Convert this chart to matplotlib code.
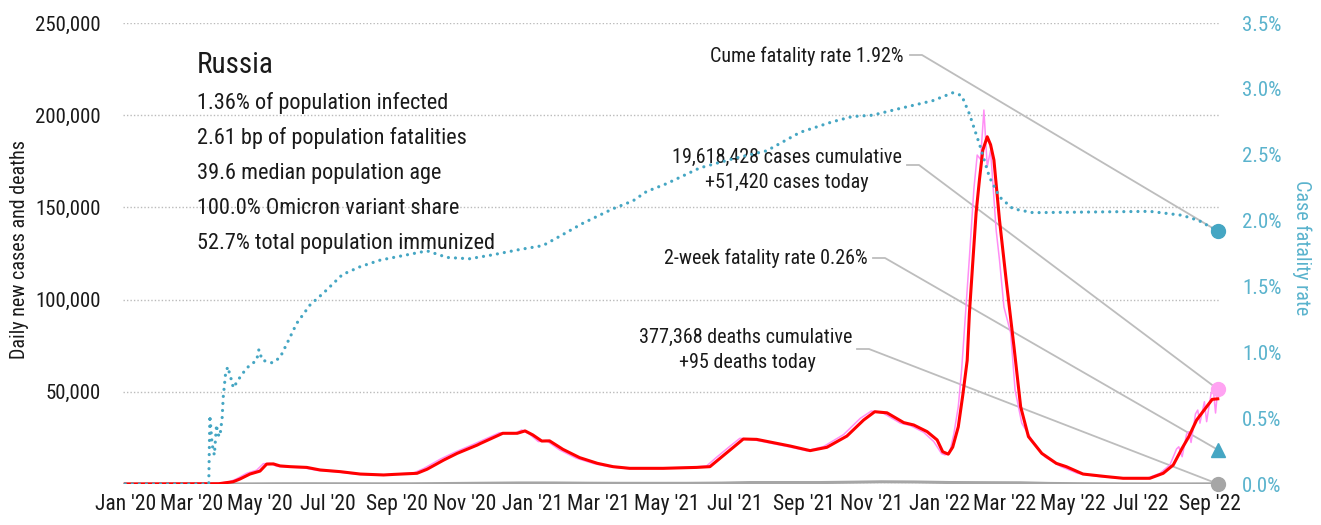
import matplotlib
matplotlib.use("Agg")
import matplotlib.pyplot as plt
import matplotlib.dates as mdates
import matplotlib.font_manager as fm
from matplotlib.ticker import FuncFormatter, FixedLocator
import pandas as pd

# pick a narrow face if one is around
names = {f.name for f in fm.fontManager.ttflist}
FONT = "Roboto"
for cand in ["Roboto Condensed", "Liberation Sans Narrow", "Roboto"]:
    if cand in names:
        FONT = cand
        break
NARROW = FONT != "Roboto"
FS = 14.5 if NARROW else 12.5
plt.rcParams["font.family"] = [FONT, "DejaVu Sans"]

# ---- data -------------------------------------------------------------
# 7-day average of new cases
avg_dates = ["2020-01-01", "2020-03-25", "2020-04-07", "2020-04-13", "2020-04-22",
             "2020-05-01", "2020-05-07", "2020-05-13", "2020-05-19", "2020-05-28",
             "2020-06-12", "2020-06-24", "2020-07-12", "2020-07-30", "2020-08-20",
             "2020-08-29", "2020-09-19", "2020-09-28", "2020-10-13", "2020-10-25",
             "2020-11-12", "2020-11-15", "2020-12-05", "2020-12-18", "2020-12-25",
             "2021-01-01", "2021-01-09", "2021-01-16", "2021-01-28", "2021-02-12",
             "2021-02-28", "2021-03-14", "2021-03-29", "2021-04-28", "2021-05-28",
             "2021-06-09", "2021-06-18", "2021-06-30", "2021-07-09", "2021-07-21",
             "2021-08-05", "2021-08-20", "2021-09-07", "2021-09-22", "2021-10-10",
             "2021-10-25", "2021-11-04", "2021-11-15", "2021-11-30", "2021-12-09",
             "2021-12-21", "2021-12-30", "2022-01-04", "2022-01-09", "2022-01-13",
             "2022-01-18", "2022-01-22", "2022-01-26", "2022-01-28", "2022-01-31",
             "2022-02-03", "2022-02-06", "2022-02-09", "2022-02-13", "2022-02-16",
             "2022-02-19", "2022-02-24", "2022-03-02", "2022-03-09", "2022-03-15",
             "2022-03-22", "2022-04-03", "2022-04-16", "2022-04-25", "2022-05-10",
             "2022-05-31", "2022-06-15", "2022-07-09", "2022-07-21", "2022-07-30",
             "2022-08-07", "2022-08-13", "2022-08-20", "2022-08-29", "2022-09-03",
             "2022-09-08"]
avg_cases = [0, 150, 1250, 2700, 5400,
             7000, 10800, 10900, 9800, 9400,
             9000, 7600, 6700, 5400, 4900,
             5200, 5800, 8000, 13000, 16600,
             21100, 22000, 27500, 27500, 28800,
             26600, 23300, 23400, 18800, 14300,
             11200, 9400, 8500, 8500, 9000,
             9400, 13900, 19900, 24400, 24200,
             22400, 20600, 18100, 19900, 26000,
             34700, 39200, 38600, 33300, 32000,
             28400, 23900, 17500, 16200, 20000,
             31000, 48000, 67000, 92700, 120000,
             147000, 165000, 181000, 188300, 184000,
             175700, 143200, 110600, 74500, 41900,
             25700, 16600, 11200, 9400, 5400,
             4000, 3100, 3100, 5800, 10300,
             19400, 25700, 34700, 41900, 45900,
             46200]

# reported daily new cases
raw_dates = ["2020-01-01", "2020-03-23", "2020-04-04", "2020-04-10", "2020-04-19",
             "2020-04-28", "2020-05-04", "2020-05-10", "2020-05-16", "2020-05-25",
             "2020-06-09", "2020-06-21", "2020-07-09", "2020-07-27", "2020-08-17",
             "2020-08-26", "2020-09-16", "2020-09-25", "2020-10-10", "2020-10-22",
             "2020-11-09", "2020-12-02", "2020-12-15", "2020-12-22", "2020-12-29",
             "2021-01-06", "2021-01-13", "2021-01-25", "2021-02-09", "2021-02-25",
             "2021-03-11", "2021-03-26", "2021-04-25", "2021-05-25", "2021-06-06",
             "2021-06-15", "2021-06-27", "2021-07-06", "2021-07-18", "2021-08-02",
             "2021-08-17", "2021-09-04", "2021-09-19", "2021-10-07", "2021-10-22",
             "2021-11-01", "2021-11-12", "2021-11-27", "2021-12-06", "2021-12-18",
             "2021-12-27", "2022-01-03", "2022-01-06", "2022-01-10", "2022-01-14",
             "2022-01-18", "2022-01-21", "2022-01-24", "2022-01-28", "2022-02-01",
             "2022-02-04", "2022-02-07", "2022-02-10", "2022-02-13", "2022-02-16",
             "2022-02-21", "2022-02-24", "2022-02-28", "2022-03-06", "2022-03-10",
             "2022-03-16", "2022-03-25", "2022-04-06", "2022-04-20", "2022-05-05",
             "2022-05-25", "2022-06-12", "2022-07-06", "2022-07-18", "2022-07-27",
             "2022-08-02", "2022-08-04", "2022-08-07", "2022-08-11", "2022-08-13",
             "2022-08-15", "2022-08-19", "2022-08-21", "2022-08-23", "2022-08-27",
             "2022-08-29", "2022-09-02", "2022-09-04", "2022-09-06", "2022-09-08"]
raw_cases = [0, 200, 1300, 2800, 5800,
             7500, 11000, 11200, 9600, 9200,
             8800, 7400, 6600, 5300, 4800,
             5200, 6000, 8400, 13500, 17000,
             21600, 27800, 27300, 29300, 27000,
             23000, 23600, 18500, 14000, 11000,
             9300, 8400, 8600, 9100, 9800,
             14500, 20500, 24800, 24000, 22200,
             20400, 18000, 20300, 26800, 35600,
             39600, 38300, 33000, 31700, 28000,
             23000, 16500, 15800, 16500, 27000,
             42000, 61800, 88000, 123000, 160000,
             178400, 176000, 202800, 172000, 181000,
             137700, 121500, 96000, 82000, 51000,
             33000, 23900, 14600, 9500, 5800,
             4000, 3200, 3000, 5800, 10300,
             19000, 20200, 14800, 27000, 28400,
             22500, 38000, 40100, 33000, 44600,
             33800, 49200, 51000, 38500, 51420]

# daily deaths
death_dates = ["2020-01-01", "2020-04-01", "2020-04-20", "2020-05-15", "2020-06-15",
               "2020-07-15", "2020-08-15", "2020-09-15", "2020-10-15", "2020-11-15",
               "2020-12-20", "2021-01-20", "2021-02-20", "2021-03-20", "2021-04-20",
               "2021-05-20", "2021-06-20", "2021-07-15", "2021-08-15", "2021-09-15",
               "2021-10-15", "2021-11-10", "2021-12-10", "2022-01-10", "2022-02-15",
               "2022-03-15", "2022-04-10", "2022-05-10", "2022-06-15", "2022-07-15",
               "2022-08-15", "2022-09-08"]
deaths = [0, 0, 50, 130, 150,
          130, 110, 120, 250, 400,
          560, 550, 420, 370, 360,
          370, 500, 780, 790, 780,
          980, 1200, 1100, 800, 700,
          650, 300, 150, 70, 40,
          50, 95]

# cumulative case fatality rate, %
cfr_dates = ["2020-01-01", "2020-03-16", "2020-03-17", "2020-03-19", "2020-03-21",
             "2020-03-23", "2020-03-24", "2020-03-26", "2020-03-28", "2020-03-29",
             "2020-03-31", "2020-04-02", "2020-04-06", "2020-04-07", "2020-04-13",
             "2020-04-19", "2020-04-28", "2020-04-30", "2020-05-03", "2020-05-12",
             "2020-05-19", "2020-05-26", "2020-06-03", "2020-06-15", "2020-06-27",
             "2020-07-14", "2020-07-30", "2020-08-17", "2020-09-10", "2020-09-28",
             "2020-10-16", "2020-11-05", "2020-11-26", "2020-12-20", "2021-01-10",
             "2021-01-25", "2021-02-15", "2021-03-14", "2021-04-01", "2021-04-13",
             "2021-05-01", "2021-05-31", "2021-06-30", "2021-07-30", "2021-08-29",
             "2021-09-27", "2021-10-15", "2021-11-02", "2021-11-26", "2021-12-26",
             "2022-01-13", "2022-01-21", "2022-01-28", "2022-02-06", "2022-02-15",
             "2022-02-24", "2022-03-08", "2022-03-26", "2022-07-09", "2022-08-07",
             "2022-08-22", "2022-09-08"]
cfr = [0.0, 0.0, 0.52, 0.30, 0.22,
       0.45, 0.38, 0.36, 0.50, 0.66,
       0.83, 0.89, 0.77, 0.73, 0.81,
       0.88, 0.94, 1.02, 0.94, 0.92,
       0.96, 1.08, 1.22, 1.36, 1.45,
       1.59, 1.65, 1.70, 1.74, 1.77,
       1.72, 1.71, 1.74, 1.78, 1.81,
       1.88, 1.98, 2.09, 2.15, 2.22,
       2.28, 2.40, 2.47, 2.53, 2.67,
       2.75, 2.79, 2.80, 2.85, 2.91,
       2.97, 2.95, 2.81, 2.58, 2.33,
       2.18, 2.09, 2.06, 2.07, 2.04,
       2.00, 1.92]

country = "Russia"
facts = ["1.36% of population infected",
         "2.61 bp of population fatalities",
         "39.6 median population age",
         "100.0% Omicron variant share",
         "52.7% total population immunized"]
cases_today = 51420
deaths_today = 95
cfr_cume = 1.92
cfr_2wk = 0.26
cases_total = 19618428
deaths_total = 377368

left_ticks = [50000, 100000, 150000, 200000, 250000]
right_ticks = [0.0, 0.5, 1.0, 1.5, 2.0, 2.5, 3.0, 3.5]

# ---- colours ------------------------------------------------------------
RED = "#FF0000"
PINK = "#FF8EF5"
PINK_DOT = "#FFA3F2"
TEAL = "#45A6C3"
TEAL_TXT = "#5AB3CD"
GRAY = "#A6A6A6"
LEADER = "#BDBDBD"
GRID = "#BBBBBB"
INK = "#1A1A1A"

W, H = 1321, 525
fig = plt.figure(figsize=(W / 100, H / 100), dpi=100)
ax = fig.add_axes([123 / W, 41 / H, 1097 / W, 461 / H])
ax2 = ax.twinx()

d_avg = pd.to_datetime(avg_dates)
d_raw = pd.to_datetime(raw_dates)
d_dth = pd.to_datetime(death_dates)
d_cfr = pd.to_datetime(cfr_dates)
last = d_raw[-1]

for y in [0] + left_ticks:
    ax.axhline(y, color=GRID, lw=1, ls=(0, (1, 1.5)), zorder=0)

ax.plot(d_dth, deaths, color=GRAY, lw=2.2, zorder=2)
ax.plot(d_raw, raw_cases, color=PINK, lw=1.1, zorder=3)
ax.plot(d_avg, avg_cases, color=RED, lw=2.2, zorder=4)
ax2.plot(d_cfr, cfr, color=TEAL, lw=2.3, ls=(0, (0.01, 2.2)),
         dash_capstyle="round", zorder=5)

ax.plot([last], [cases_today], "o", ms=10, color=PINK_DOT, clip_on=False, zorder=6)
ax.plot([last], [deaths_today], "o", ms=10, color=GRAY, clip_on=False, zorder=6)
ax2.plot([last], [cfr_cume], "o", ms=10, color=TEAL, clip_on=False, zorder=6)
ax2.plot([last], [cfr_2wk], "^", ms=10, color=TEAL, clip_on=False, zorder=6)

ax.set_xlim(pd.Timestamp("2019-12-30"), pd.Timestamp("2022-09-10"))
ax.set_ylim(0, 250000)
ax2.set_ylim(0, 3.5)

ax.xaxis.set_major_locator(mdates.MonthLocator(bymonth=[1, 3, 5, 7, 9, 11]))
ax.xaxis.set_major_formatter(mdates.DateFormatter("%b '%y"))
ax.yaxis.set_major_locator(FixedLocator(left_ticks))
ax.yaxis.set_major_formatter(FuncFormatter(lambda v, p: f"{v:,.0f}"))
ax2.yaxis.set_major_locator(FixedLocator(right_ticks))
ax2.yaxis.set_major_formatter(FuncFormatter(lambda v, p: f"{v:.1f}%"))

ax.tick_params(axis="x", length=0, pad=7, labelsize=FS + 1, labelcolor=INK)
ax.tick_params(axis="y", length=0, pad=16, labelsize=FS + 0.5, labelcolor=INK)
ax2.tick_params(axis="y", length=0, pad=16, labelsize=FS + 0.5, labelcolor=TEAL_TXT)
for a in (ax, ax2):
    for s in a.spines.values():
        s.set_visible(False)
    a.patch.set_visible(False)

fig.text(20 / W, 0.524, "Daily new cases and deaths", rotation=90,
         ha="center", va="center", fontsize=FS, color=INK)
fig.text(1302 / W, 0.529, "Case fatality rate", rotation=270,
         ha="center", va="center", fontsize=FS, color=TEAL_TXT)


def fx(px):
    return (px - 123) / 1097


def fy(py):
    return (484 - py) / 461


# country summary block
ax.text(fx(197), fy(65), country, transform=ax.transAxes, ha="left", va="center",
        fontsize=FS + 6.5, color=INK)
for i, line in enumerate(facts):
    ax.text(fx(197), fy(103 + 35.2 * i), line, transform=ax.transAxes,
            ha="left", va="center", fontsize=FS + 1.5, color=INK)

# call-outs
tkw = dict(transform=ax.transAxes, va="center", fontsize=FS, color=INK)
ax.text(fx(904), fy(56), f"Cume fatality rate {cfr_cume:.2f}%", ha="right", **tkw)
ax.text(fx(787), fy(157), f"{cases_total:,} cases cumulative", ha="center", **tkw)
ax.text(fx(787), fy(182), f"+{cases_today:,} cases today", ha="center", **tkw)
ax.text(fx(868), fy(258), f"2-week fatality rate {cfr_2wk:.2f}%", ha="right", **tkw)
ax.text(fx(746), fy(337), f"{deaths_total:,} deaths cumulative", ha="center", **tkw)
ax.text(fx(747), fy(363), f"+{deaths_today} deaths today", ha="center", **tkw)


def leader(x0, y0, target_ax, value):
    end = target_ax.transData.transform((mdates.date2num(last), value))
    ex, ey = ax.transAxes.inverted().transform(end)
    ax.plot([fx(x0), fx(x0 + 12), ex], [fy(y0), fy(y0), ey], color=LEADER,
            lw=1.3, transform=ax.transAxes, clip_on=False, zorder=1)


leader(910, 55, ax2, cfr_cume)
leader(907, 165, ax, cases_today)
leader(873, 258, ax2, cfr_2wk)
leader(857, 349, ax, deaths_today)

fig.savefig("out.png", dpi=100)
